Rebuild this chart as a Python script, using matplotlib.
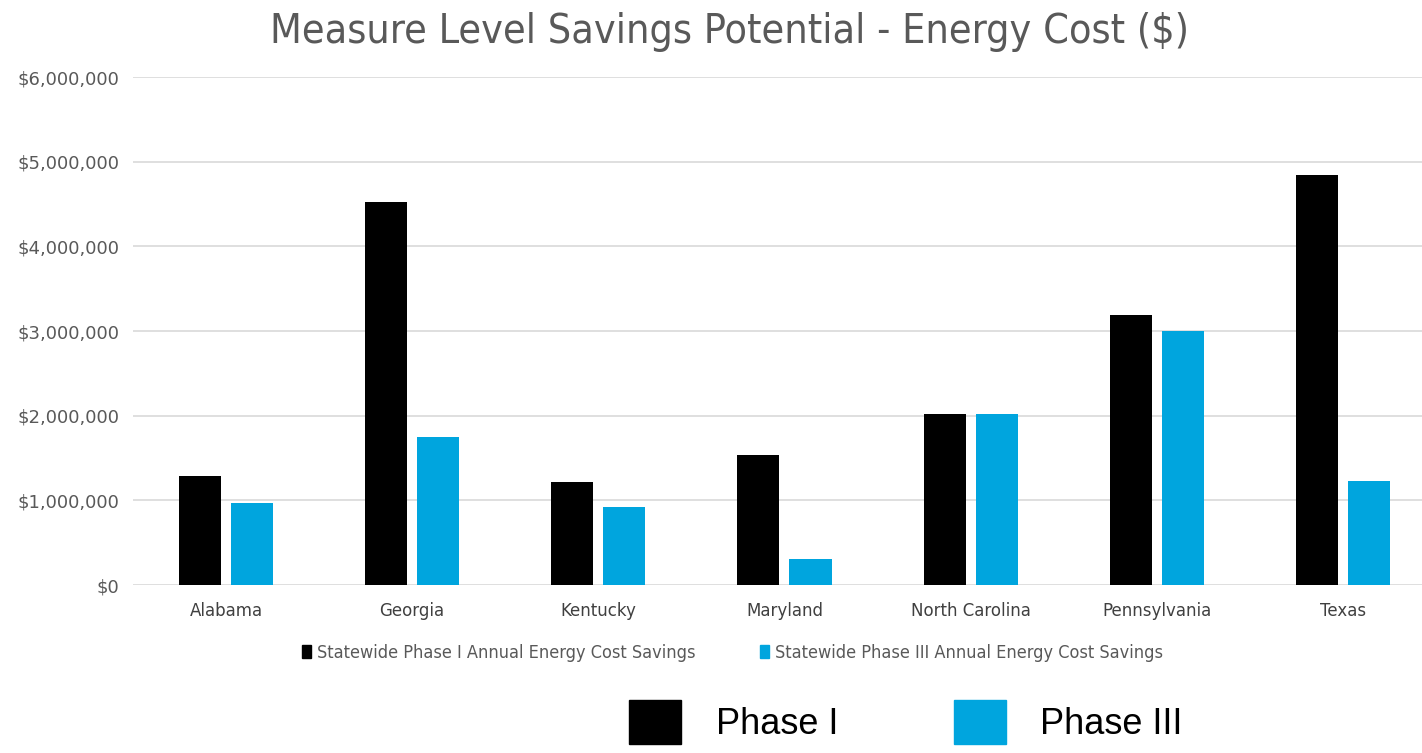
import matplotlib.pyplot as plt
import numpy as np
from matplotlib.patches import Patch
from matplotlib.ticker import FuncFormatter

states = ['Alabama', 'Georgia', 'Kentucky', 'Maryland', 'North Carolina', 'Pennsylvania', 'Texas']
phase1 = [1290000, 4520000, 1215000, 1540000, 2025000, 3190000, 4845000]
phase3 = [967000, 1744000, 927000, 304000, 2015000, 3005000, 1231000]

black = '#000000'
blue = '#00A5DE'

fig = plt.figure(figsize=(14.22, 7.53), dpi=100)
ax = fig.add_axes([0.0935, 0.2231, 0.9065, 0.6746])

x = np.arange(len(states))
w = 0.226
gap = 0.054
ax.bar(x - (w + gap) / 2, phase1, w, color=black, zorder=3)
ax.bar(x + (w + gap) / 2, phase3, w, color=blue, zorder=3)

ax.set_ylim(0, 6000000)
ax.set_xlim(-0.5, 6.425)
ax.set_yticks(np.arange(0, 6000001, 1000000))
ax.yaxis.set_major_formatter(FuncFormatter(lambda v, p: '${:,.0f}'.format(v)))
ax.set_xticks(x)
ax.set_xticklabels(states)
ax.tick_params(length=0, labelsize=12, labelcolor='#595959', pad=10)
ax.tick_params(axis='y', labelsize=13)
ax.tick_params(axis='x', labelcolor='#404040', pad=12)
ax.grid(axis='y', color='#D9D9D9', linewidth=1.2, zorder=0)
for s in ax.spines.values():
    s.set_visible(False)

fig.text(0.513, 0.958, 'Measure Level Savings Potential - Energy Cost ($)',
         ha='center', va='center', fontsize=29.5, color='#595959',
         family='DejaVu Sans', fontstretch='condensed')

# series legend under the axis labels
small = [Patch(color=black), Patch(color=blue)]
fig.legend(small, ['Statewide Phase I Annual Energy Cost Savings',
                   'Statewide Phase III Annual Energy Cost Savings'],
           loc='center', bbox_to_anchor=(0.515, 0.133), ncol=2, frameon=False,
           prop={'family': 'DejaVu Sans', 'stretch': 'condensed', 'size': 13},
           labelcolor='#595959',
           handlelength=0.5, handleheight=0.65, handletextpad=0.3, columnspacing=3.6)

# big key at the bottom
big = [Patch(color=black), Patch(color=blue)]
fig.legend(big, ['Phase I', 'Phase III'], loc='center', bbox_to_anchor=(0.637, 0.041),
           ncol=2, frameon=False, prop={'family': 'Liberation Sans', 'size': 26},
           handlelength=1.45, handleheight=1.5, handletextpad=0.95, columnspacing=3.2,
           borderpad=0, borderaxespad=0)

fig.savefig('out.png', dpi=100, facecolor='white')
